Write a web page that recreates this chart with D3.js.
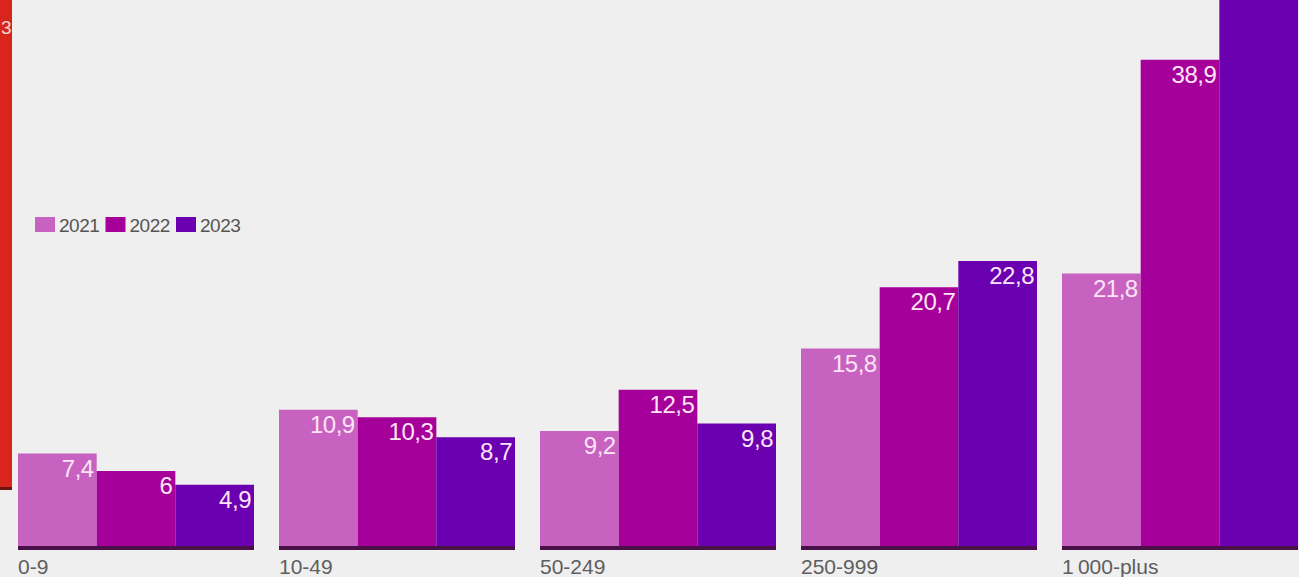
<!DOCTYPE html>
<html>
<head>
<meta charset="utf-8">
<script src="https://cdn.jsdelivr.net/npm/d3@7"></script>
<style>
  html, body { margin: 0; padding: 0; background: #efefef; }
  svg { display: block; }
</style>
</head>
<body>
<div id="chart"></div>
<script>
// categories (company size) and one array per year
const categories = ["0-9", "10-49", "50-249", "250-999", "1\u2009000-plus"]
const years = ["2021", "2022", "2023"]
const values2021 = [7.4, 10.9, 9.2, 15.8, 21.8]
const values2022 = [6, 10.3, 12.5, 20.7, 38.9]
const values2023 = [4.9, 8.7, 9.8, 22.8, 47.0]   // last one runs off the top
const colors = ["#c762c0", "#a6009b", "#6a00b0"]

const width = 1299
const height = 577
const baseline = 546

const series = [values2021, values2022, values2023]
const data = categories.map((c, i) => ({
  cat: c,
  vals: years.map((y, j) => ({ year: y, value: series[j][i], color: colors[j] }))
}))

const svg = d3.select('#chart')
  .append('svg')
  .attr('width', width)
  .attr('height', height)

svg.append('rect')
  .attr('width', width)
  .attr('height', height)
  .attr('fill', '#efefef')

// scales
const x0 = d3.scaleBand()
  .domain(categories)
  .range([18, 1298])
  .paddingInner(0.0958)
  .paddingOuter(0)

const x1 = d3.scaleBand()
  .domain(years)
  .range([0, x0.bandwidth()])
  .padding(0)

const y = d3.scaleLinear()
  .domain([0, 40])
  .range([baseline, baseline - 500])

// red panel from the neighbouring chart, cut at the left edge
svg.append('rect')
  .attr('x', 0).attr('y', 0)
  .attr('width', 12).attr('height', 489)
  .attr('fill', '#d8261c')
svg.append('rect')
  .attr('x', 0).attr('y', 487)
  .attr('width', 12).attr('height', 3)
  .attr('fill', '#6e1410')
svg.append('text')
  .attr('x', 1).attr('y', 34)
  .style('font', '19px "Liberation Sans", Arial, sans-serif')
  .style('fill', '#f6d6d0')
  .text('3')

const groups = svg.selectAll('.group')
  .data(data)
  .enter().append('g')
  .attr('class', 'group')
  .attr('transform', d => 'translate(' + x0(d.cat) + ',0)')

groups.selectAll('rect.bar')
  .data(d => d.vals)
  .enter().append('rect')
  .attr('class', 'bar')
  .attr('x', d => x1(d.year))
  .attr('y', d => y(d.value))
  .attr('width', x1.bandwidth())
  .attr('height', d => baseline - y(d.value))
  .attr('fill', d => d.color)

// value labels inside the top of each bar (skip the ones above the frame)
groups.selectAll('text.value')
  .data(d => d.vals.filter(v => y(v.value) > 0))
  .enter().append('text')
  .attr('class', 'value')
  .attr('text-anchor', 'end')
  .attr('x', d => x1(d.year) + x1.bandwidth() - 3)
  .attr('y', d => y(d.value) + 23)
  .text(d => String(d.value).replace('.', ','))
  .style('font', '24px "Liberation Sans", Arial, sans-serif')
  .style('letter-spacing', '-0.5px')
  .style('fill', '#fde4f7')

// dark base line under each group
groups.append('rect')
  .attr('x', 0)
  .attr('y', baseline)
  .attr('width', x0.bandwidth())
  .attr('height', 4)
  .attr('fill', '#4a1048')

// category labels
groups.append('text')
  .attr('x', 0)
  .attr('y', 574)
  .text(d => d.cat)
  .style('font', '21px "Liberation Sans", Arial, sans-serif')
  .style('fill', '#5e5e5e')

// legend
const legend = svg.append('g')
  .attr('transform', 'translate(35,217)')

const item = legend.selectAll('g')
  .data(years)
  .enter().append('g')
  .attr('transform', (d, i) => 'translate(' + (i * 70.5) + ',0)')

item.append('rect')
  .attr('width', 20)
  .attr('height', 15)
  .attr('fill', (d, i) => colors[i])

item.append('text')
  .attr('x', 24)
  .attr('y', 15)
  .text(d => d)
  .style('font', '19px "Liberation Sans", Arial, sans-serif')
  .style('letter-spacing', '-0.5px')
  .style('fill', '#555')
</script>
</body>
</html>
